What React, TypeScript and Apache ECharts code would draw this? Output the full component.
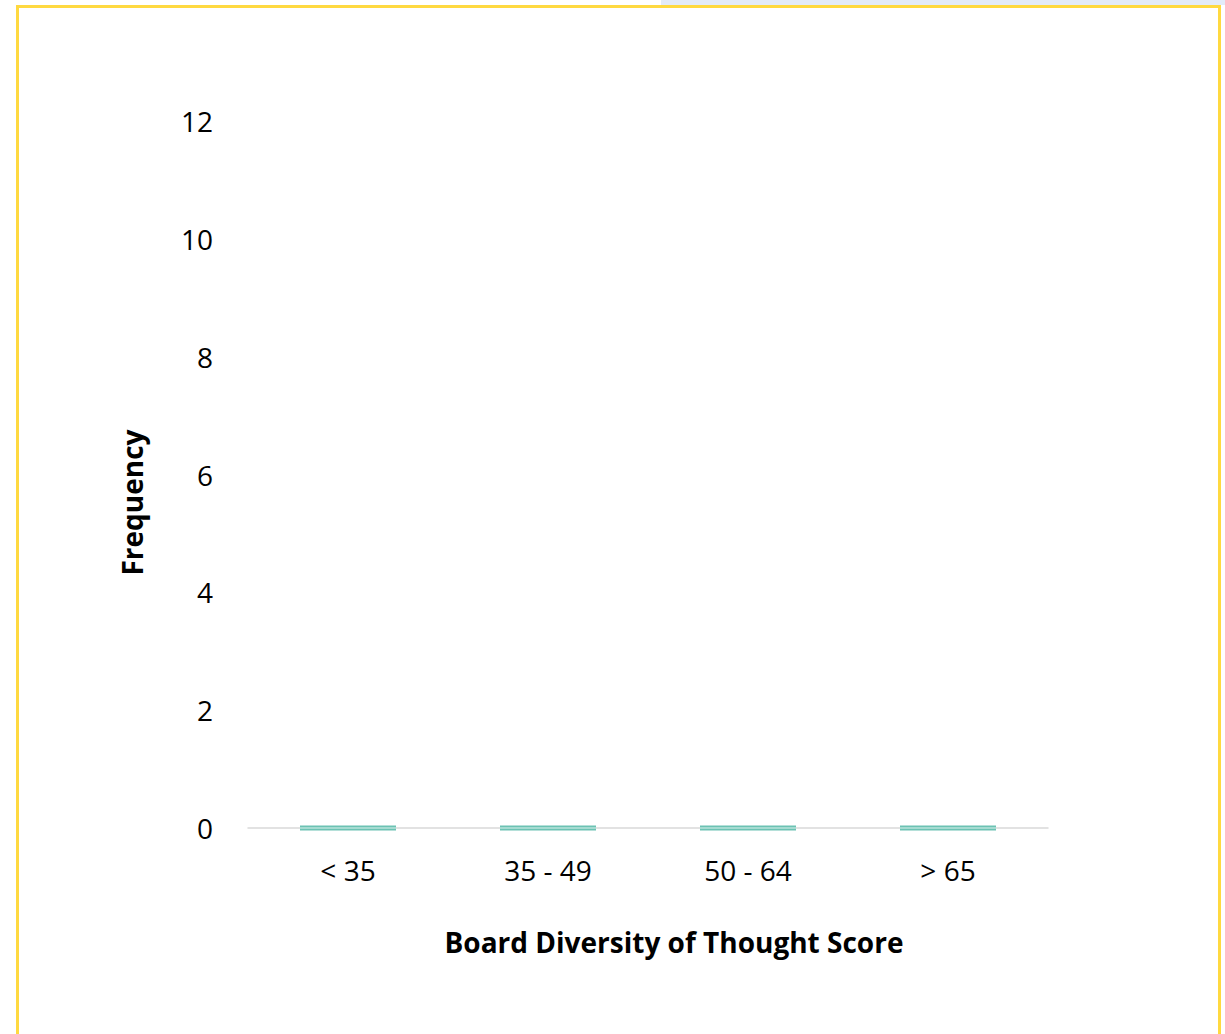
import React, { useEffect, useRef } from "react";
import * as echarts from "echarts";

const categories = ["< 35", "35 - 49", "50 - 64", "> 65"];
const frequency = [0, 0, 0, 0];
const yTicks = { min: 0, max: 12, interval: 2 };
const xTitle = "Board Diversity of Thought Score";
const yTitle = "Frequency";

export default function App() {
  const ref = useRef<HTMLDivElement>(null);
  useEffect(() => {
    if (!ref.current) return;
    const chart = echarts.init(ref.current, null, { renderer: "svg" });
    const font = "'Open Sans', 'Noto Sans', sans-serif";
    chart.setOption({
      animation: false,
      backgroundColor: "#ffffff",
      textStyle: { fontFamily: font },
      graphic: [
        {
          type: "rect",
          shape: { x: 661, y: 0, width: 564, height: 5 },
          style: { fill: "#e3ebf8" },
          z: 0,
        },
        {
          type: "rect",
          shape: { x: 17.5, y: 6.5, width: 1202, height: 1040 },
          style: { fill: "none", stroke: "#ffd940", lineWidth: 3 },
          z: 0,
        },
      ],
      grid: { left: 248, right: 177, top: 121, bottom: 206, containLabel: false },
      xAxis: {
        type: "category",
        data: categories,
        name: xTitle,
        nameLocation: "middle",
        nameGap: 100,
        nameTextStyle: {
          fontSize: 28,
          fontWeight: "bold",
          color: "#000",
          fontFamily: font,
          padding: [0, 0, 0, 52],
        },
        axisLine: { show: true, lineStyle: { color: "#d9d9d9", width: 1.5 } },
        axisTick: { show: false },
        axisLabel: { fontSize: 28, color: "#000", margin: 28, fontFamily: font },
      },
      yAxis: {
        type: "value",
        min: yTicks.min,
        max: yTicks.max,
        interval: yTicks.interval,
        name: yTitle,
        nameLocation: "middle",
        nameGap: 102,
        nameRotate: 90,
        nameTextStyle: {
          fontSize: 28,
          fontWeight: "bold",
          color: "#000",
          fontFamily: font,
          padding: [0, 56, 0, 0],
        },
        axisLine: { show: false },
        axisTick: { show: false },
        splitLine: { show: false },
        axisLabel: { fontSize: 28, color: "#000", margin: 35, fontFamily: font },
      },
      series: [
        {
          type: "bar",
          data: frequency,
          barWidth: "48%",
          itemStyle: { color: "#6cc2b3", borderColor: "#6cc2b3", borderWidth: 5 },
          z: 2,
        },
        {
          type: "bar",
          data: frequency,
          barWidth: "48%",
          barGap: "-100%",
          itemStyle: { color: "#b8e4dc", borderColor: "#b8e4dc", borderWidth: 1.5 },
          z: 3,
        },
      ],
    });
    return () => chart.dispose();
  }, []);
  return (
    <div
      ref={ref}
      style={{ position: "absolute", left: 0, top: 0, width: 1225, height: 1034 }}
    />
  );
}
